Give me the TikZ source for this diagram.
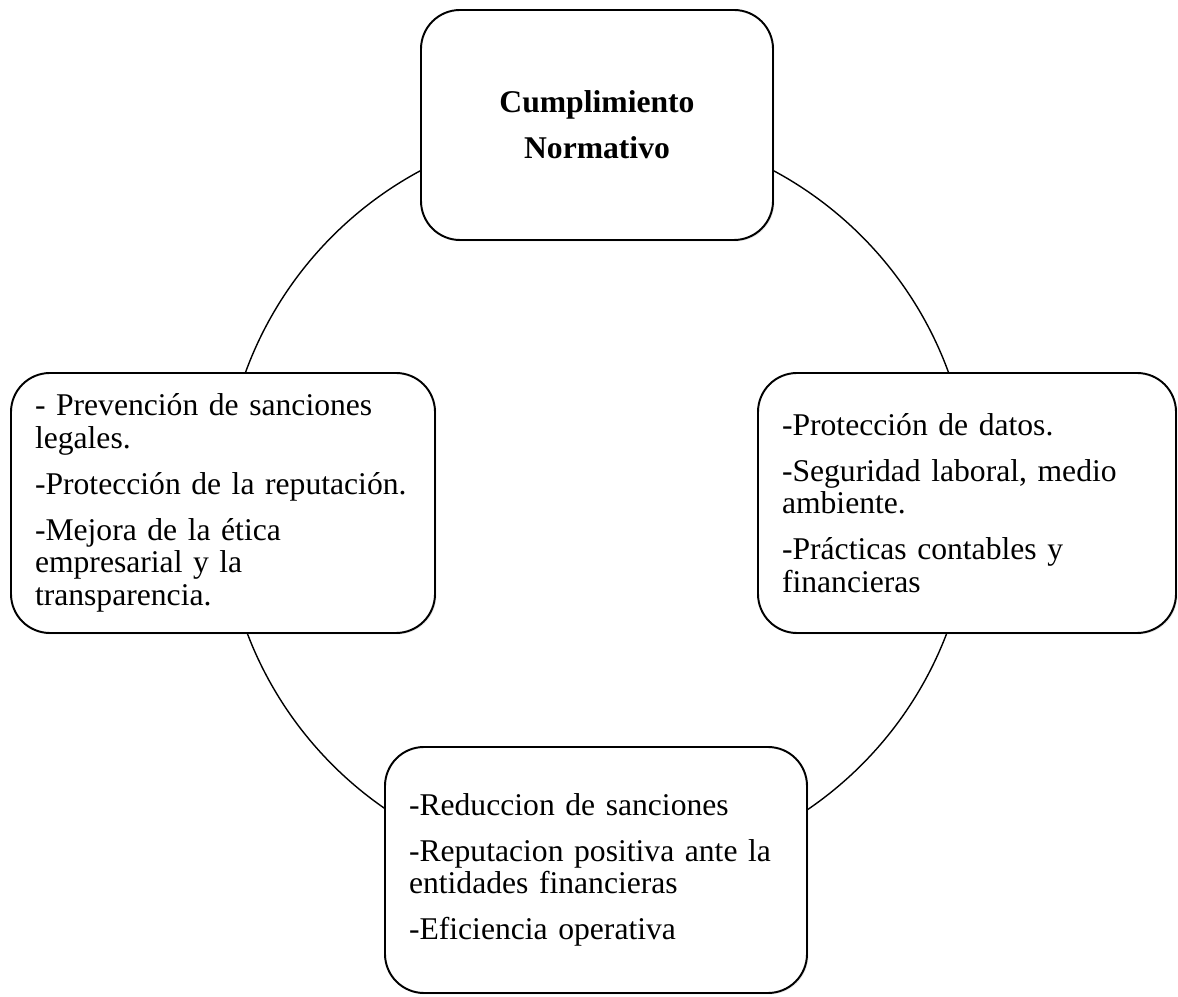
\documentclass[tikz,border=0pt]{standalone}
\usepackage{fontspec}
\setmainfont{Liberation Serif}
\usetikzlibrary{shadows}

\begin{document}
\begin{tikzpicture}[caja/.style={draw, line width=1.1pt, rounded corners=0.78cm, fill=white, inner xsep=0.48cm, inner ysep=0pt, align=left, font=\fontsize{18}{18.5}\selectfont, drop shadow={opacity=0.2, shadow xshift=0.8pt, shadow yshift=-0.8pt}}]
	\useasboundingbox (0,0) rectangle (23.56,19.92);
	\draw[line width=0.8pt] (11.94,9.91) circle (7.48);
	\node[caja, text width=6.08cm, minimum height=4.6cm, align=center, font=\fontsize{18}{18.5}\selectfont\bfseries] (cumplimiento) at (11.94,17.42) {Cumplimiento\\[7.7pt] Normativo};
	\node[caja, text width=7.52cm, minimum height=5.2cm] (beneficios) at (4.46,9.86) {- Prevención de sanciones\\ legales.\\[7.7pt] -Protección de la reputación.\\[7.7pt] -Mejora de la ética\\ empresarial y la\\ transparencia.};
	\node[caja, text width=7.40cm, minimum height=5.2cm] (areas) at (19.34,9.86) {-Protección de datos.\\[7.7pt] -Seguridad laboral, medio\\ ambiente.\\[7.7pt] -Prácticas contables y\\ financieras};
	\node[caja, text width=7.48cm, minimum height=4.92cm] (resultados) at (11.92,2.52) {-Reduccion de sanciones\\[7.7pt] -Reputacion positiva ante la\\ entidades financieras\\[7.7pt] -Eficiencia operativa};
\end{tikzpicture}
\end{document}
